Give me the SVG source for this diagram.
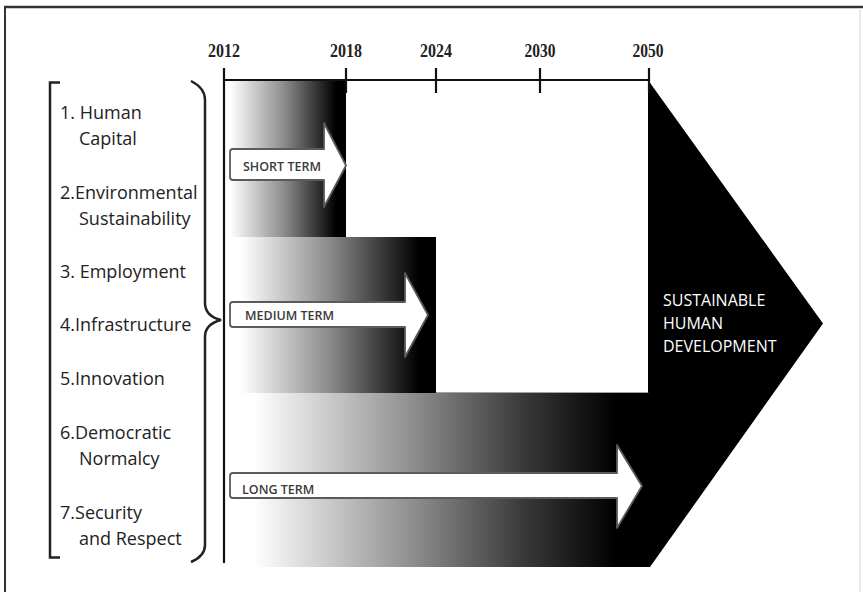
<svg xmlns="http://www.w3.org/2000/svg" width="863" height="592" viewBox="0 0 863 592">
  <defs>
    <linearGradient id="gShort" x1="224" y1="0" x2="346" y2="0" gradientUnits="userSpaceOnUse">
      <stop offset="0.05" stop-color="#ffffff"/>
      <stop offset="0.5" stop-color="#8a8a8a"/>
      <stop offset="0.92" stop-color="#000000"/>
    </linearGradient>
    <linearGradient id="gMedium" x1="224" y1="0" x2="436" y2="0" gradientUnits="userSpaceOnUse">
      <stop offset="0.08" stop-color="#ffffff"/>
      <stop offset="0.5" stop-color="#8a8a8a"/>
      <stop offset="0.92" stop-color="#000000"/>
    </linearGradient>
    <linearGradient id="gLong" x1="224" y1="0" x2="650" y2="0" gradientUnits="userSpaceOnUse">
      <stop offset="0.07" stop-color="#ffffff"/>
      <stop offset="0.45" stop-color="#8c8c8c"/>
      <stop offset="0.7" stop-color="#3a3a3a"/>
      <stop offset="0.92" stop-color="#000000"/>
    </linearGradient>
    <style>
      .frame { stroke: #333; fill: none; }
      .axis { stroke: #111; stroke-width: 2.2; fill: none; }
      .year { font-family: "Liberation Serif", serif; font-weight: bold; font-size: 19px; fill: #222; text-anchor: middle; }
      .item { font-family: "Open Sans", "Liberation Sans", sans-serif; font-size: 18px; fill: #222; }
      .arrow { fill: #ffffff; stroke: #5a5a5a; stroke-width: 1.8; stroke-linejoin: round; }
      .term { font-family: "Open Sans", "Liberation Sans", sans-serif; font-size: 12.5px; font-weight: 600; fill: #3a3a3a; }
      .goal { font-family: "Open Sans", "Liberation Sans", sans-serif; font-size: 16px; fill: #ffffff; }
      .brace { stroke: #222; stroke-width: 2.5; fill: none; stroke-linecap: butt; }
    </style>
  </defs>

  <rect width="863" height="592" fill="#ffffff"/>

  <!-- outer frame -->
  <g id="frame">
    <line class="frame" x1="4" y1="7" x2="863" y2="7" stroke-width="2.5"/>
    <line class="frame" x1="5" y1="7" x2="5" y2="592" stroke-width="2" stroke="#555"/>
    <line x1="860" y1="8" x2="860" y2="592" stroke="#e2e2e2" stroke-width="1.5"/>
  </g>

  <!-- goal arrow (2050) -->
  <g id="goal">
    <polygon points="648,80 823,323.5 650,567 630,567 630,393 648,393" fill="#000"/>
    <text class="goal" x="663" y="306">SUSTAINABLE</text>
    <text class="goal" x="663" y="329">HUMAN</text>
    <text class="goal" x="663" y="352">DEVELOPMENT</text>
  </g>

  <!-- horizon bands -->
  <g id="short-term">
    <rect x="224" y="80" width="122" height="157" fill="url(#gShort)"/>
    <path class="arrow" d="M233,149 H324 V123 L346,165.5 L324,207 V180 H233 Q230,180 230,177 V152 Q230,149 233,149 Z"/>
    <text class="term" x="243" y="171">SHORT TERM</text>
  </g>

  <g id="medium-term">
    <rect x="224" y="237" width="212" height="156" fill="url(#gMedium)"/>
    <line x1="436" y1="393" x2="649" y2="393" stroke="#444" stroke-width="1"/>
    <path class="arrow" d="M233,302 H405 V273 L428,315 L405,357 V327 H233 Q230,327 230,324 V305 Q230,302 233,302 Z"/>
    <text class="term" x="245" y="320">MEDIUM TERM</text>
  </g>

  <g id="long-term">
    <rect x="224" y="393" width="426" height="174" fill="url(#gLong)"/>
    <path class="arrow" d="M233,473 H617 V445 L642,486 L617,528 V498 H233 Q230,498 230,495 V476 Q230,473 233,473 Z"/>
    <text class="term" x="242" y="494">LONG TERM</text>
  </g>

  <!-- time axis -->
  <g id="axis">
    <line class="axis" x1="224" y1="80" x2="649" y2="80"/>
    <line class="axis" x1="224" y1="68" x2="224" y2="563"/>
    <line class="axis" x1="346" y1="68" x2="346" y2="93"/>
    <line class="axis" x1="436" y1="68" x2="436" y2="93"/>
    <line class="axis" x1="540" y1="68" x2="540" y2="93"/>
    <line class="axis" x1="649" y1="68" x2="649" y2="93"/>
    <text class="year" x="224" y="57" textLength="32" lengthAdjust="spacingAndGlyphs">2012</text>
    <text class="year" x="346" y="57" textLength="32" lengthAdjust="spacingAndGlyphs">2018</text>
    <text class="year" x="436" y="57" textLength="32" lengthAdjust="spacingAndGlyphs">2024</text>
    <text class="year" x="540" y="57" textLength="31" lengthAdjust="spacingAndGlyphs">2030</text>
    <text class="year" x="648" y="57" textLength="31" lengthAdjust="spacingAndGlyphs">2050</text>
  </g>

  <!-- development pillars -->
  <g id="pillars">
    <path class="brace" d="M60,82.5 H50 V557.5 H60"/>
    <text class="item" x="60" y="119">1. Human</text>
    <text class="item" x="79" y="145">Capital</text>
    <text class="item" x="60" y="199">2.Environmental</text>
    <text class="item" x="79" y="225">Sustainability</text>
    <text class="item" x="60" y="278">3. Employment</text>
    <text class="item" x="60" y="331">4.Infrastructure</text>
    <text class="item" x="60" y="385">5.Innovation</text>
    <text class="item" x="60" y="439">6.Democratic</text>
    <text class="item" x="79" y="465">Normalcy</text>
    <text class="item" x="60" y="519">7.Security</text>
    <text class="item" x="79" y="545">and Respect</text>
    <path class="brace" d="M191,81 Q205,88 205,100 V303 Q205,316 221,320 Q205,324 205,337 V545 Q205,556 191,562"/>
  </g>
</svg>
